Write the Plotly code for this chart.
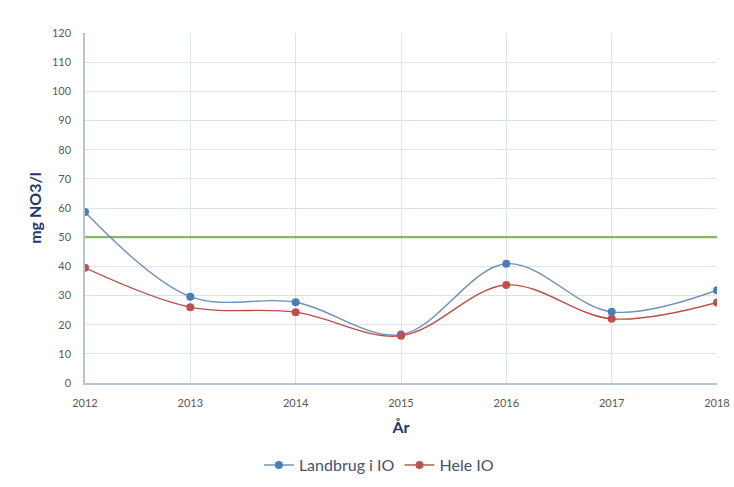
import plotly.graph_objects as go

years = [2012, 2013, 2014, 2015, 2016, 2017, 2018]
landbrug_io = [58.6, 29.6, 27.7, 16.6, 40.9, 24.4, 31.8]
hele_io = [39.5, 26.0, 24.3, 16.2, 33.6, 22.0, 27.6]
limit_value = 50

y_ticks = list(range(0, 121, 10))

fig = go.Figure()

# Nitrate limit value as a horizontal line
fig.add_trace(go.Scatter(
    x=[years[0], years[-1]], y=[limit_value, limit_value],
    mode="lines", line=dict(color="#8fb55e", width=2.2),
    showlegend=False, hoverinfo="skip",
))

fig.add_trace(go.Scatter(
    x=years, y=landbrug_io, name="Landbrug i IO",
    mode="lines+markers", line=dict(color="#6f8fb3", width=1.4, shape="spline", smoothing=1.0),
    marker=dict(color="#4a7ebb", size=8),
))
fig.add_trace(go.Scatter(
    x=years, y=hele_io, name="Hele IO",
    mode="lines+markers", line=dict(color="#b5504c", width=1.4, shape="spline", smoothing=1.0),
    marker=dict(color="#c0504d", size=8),
))

fig.update_layout(
    width=734, height=487,
    margin=dict(l=85, r=17, t=33, b=104, autoexpand=False),
    paper_bgcolor="white", plot_bgcolor="white",
    font=dict(family="Lato, Open Sans, sans-serif", color="#595959"),
    legend=dict(
        orientation="h", x=0.465, xanchor="center",
        yref="container", y=0.045, yanchor="middle",
        font=dict(size=16, color="#44546a"),
    ),
    showlegend=True,
)

fig.update_xaxes(
    range=[years[0], years[-1]], tickvals=years, ticktext=[str(y) for y in years],
    showgrid=True, gridcolor="#dde3ea", gridwidth=1,
    showline=True, linecolor="#b7c5d6", linewidth=1.5,
    ticks="outside", ticklen=9, tickcolor="rgba(0,0,0,0)",
    tickfont=dict(size=11, color="#595959"),
    title=dict(text="<b>År</b>", font=dict(size=16, color="#1f3864"), standoff=14),
    zeroline=False, automargin=False,
)
fig.update_yaxes(
    range=[0, 120], tickvals=y_ticks,
    showgrid=True, gridcolor="#dde3ea", gridwidth=1,
    showline=True, linecolor="#b7c5d6", linewidth=1.5,
    ticks="outside", ticklen=10, tickcolor="rgba(0,0,0,0)",
    tickfont=dict(size=11, color="#595959"),
    title=dict(text="<b>mg NO3/l</b>", font=dict(size=16, color="#1f3864"), standoff=6),
    zeroline=False, automargin=False,
)

fig.write_html("out.html")
